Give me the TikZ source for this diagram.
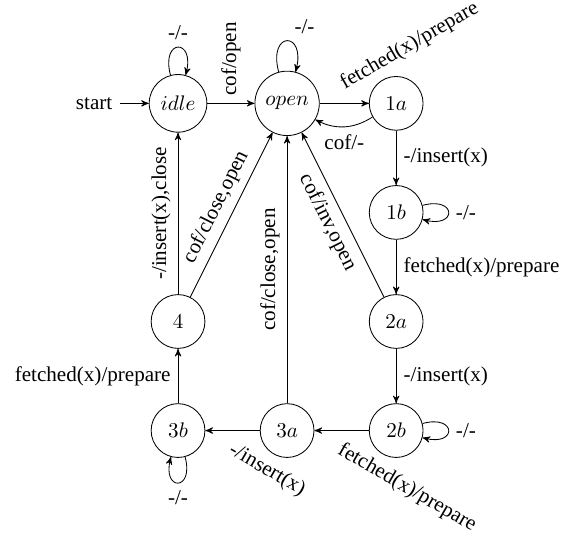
\documentclass[tikz,border=0pt]{standalone}
\usepackage{amsmath}
\usepackage{amssymb}
\usepackage{fontspec}
\setmainfont{Liberation Serif}
\usepackage{tikz}
\usetikzlibrary{automata,positioning,arrows}

\begin{document}
\begin{tikzpicture}[->,>=stealth',node distance=51.7pt,on grid,initial text=start,
  every state/.style={draw,minimum size=25.5pt,inner sep=3.5pt},
  every loop/.style={looseness=6.5}]
\useasboundingbox (-84.4pt,-205pt) rectangle (187.7pt,49pt);
\node[state,initial] (idle) {$idle$};
\node[state] (open) [right=of idle] {$open$};
\node[state] (s1a) [right=of open] {$1a$};
\node[state] (s1b) [below=of s1a] {$1b$};
\node[state] (s2a) [below=of s1b] {$2a$};
\node[state] (s2b) [below=of s2a] {$2b$};
\node[state] (s3a) [left=of s2b] {$3a$};
\node[state] (s3b) [left=of s3a] {$3b$};
\node[state] (s4) [above=of s3b] {$4$};
\path (idle) edge [loop above] node [above] {-/-} ()
             edge node [rotate=90,anchor=west] {cof/open} (open)
      (open) edge [loop above] node [above right] {-/-} ()
             edge node [rotate=30,anchor=south west] {fetched(x)/prepare} (s1a)
      (s1a) edge [bend left] node [below] {cof/-} (open)
            edge node [right] {-/insert(x)} (s1b)
      (s1b) edge [loop right] node [right] {-/-} ()
            edge node [right] {fetched(x)/prepare} (s2a)
      (s2a) edge node [sloped,below] {cof/inv,open} (open)
            edge node [right] {-/insert(x)} (s2b)
      (s2b) edge [loop right] node [right] {-/-} ()
            edge node [rotate=-30,anchor=north west] {fetched(x)/prepare} (s3a)
      (s3a) edge node [sloped,above] {cof/close,open} (open)
            edge node [rotate=-30,anchor=north west] {-/insert(x)} (s3b)
      (s3b) edge [loop below] node [below] {-/-} ()
            edge node [left] {fetched(x)/prepare} (s4)
      (s4) edge node [sloped,above] {cof/close,open} (open)
           edge node [sloped,above] {-/insert(x),close} (idle);
\end{tikzpicture}
\end{document}
